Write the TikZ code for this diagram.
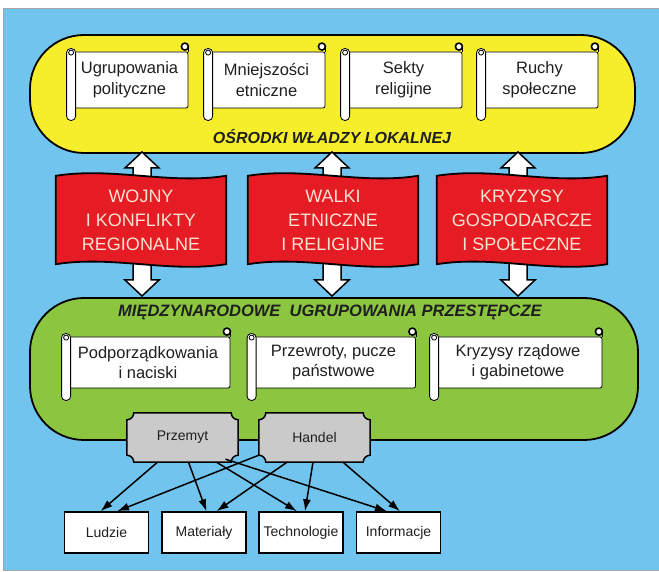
\documentclass[tikz,border=0pt]{standalone}
\usepackage{fontspec}
\setmainfont{Liberation Sans}
\usetikzlibrary{positioning}
\usetikzlibrary{arrows.meta}
\definecolor{skyblue}{RGB}{112,196,238}
\definecolor{lemon}{RGB}{246,238,42}
\definecolor{flagred}{RGB}{230,28,36}
\definecolor{leaf}{RGB}{140,198,64}
\definecolor{gatefill}{RGB}{202,202,202}
\definecolor{paleink}{RGB}{250,226,210}
\pgfdeclarelayer{front}
\pgfsetlayers{main,front}
\newcommand{\sheetrolls}[1]{%
  \draw[roll] ([xshift=-4pt,yshift=3pt]#1.north west) rectangle ([xshift=5pt,yshift=-12pt]#1.south west);
  \draw[roll] ([xshift=0.5pt,yshift=-1pt]#1.north west) circle (2.5pt);
  \draw[thick] (#1.north east) -- ++(0,5pt);
  \draw[roll, line width=1.6pt] ([xshift=-3.5pt,yshift=5pt]#1.north east) circle (3.5pt);
}
\newcommand{\flagoutline}[1]{%
  \draw[flagline] (#1.north west) .. controls +(57,9) and +(-57,-9) .. (#1.north east)
    -- (#1.south east) .. controls +(-57,-9) and +(57,9) .. (#1.south west) -- cycle;
}
\newcommand{\bothways}[1]{%
  \draw[twoway] (#1) -- ++(17,-16) -- ++(-8,0) -- ++(0,-112) -- ++(8,0) -- ++(-17,-16)
    -- ++(-17,16) -- ++(8,0) -- ++(0,112) -- ++(-8,0) -- cycle;
}
\newcommand{\gateoutline}[1]{%
  \draw[gateline] ([xshift=7pt]#1.north west) -- ([xshift=-7pt]#1.north east)
    arc[start angle=180,end angle=270,radius=7pt] -- ([yshift=7pt]#1.south east)
    arc[start angle=90,end angle=180,radius=7pt] -- ([xshift=7pt]#1.south west)
    arc[start angle=0,end angle=90,radius=7pt] -- ([yshift=-7pt]#1.north west)
    arc[start angle=270,end angle=360,radius=7pt] -- cycle;
}
\tikzset{
  every node/.style={align=center, text=black!88},
  region/.style={draw, line width=1.8pt, rounded corners=54pt},
  title/.style={font=\fontsize{16}{18}\selectfont\bfseries\itshape},
  sheet/.style={draw, thick, fill=white, rounded corners=2pt, inner sep=0pt,
    font=\fontsize{16.5}{21}\selectfont},
  roll/.style={thick, fill=white, rounded corners=4pt},
  flagtext/.style={minimum width=170pt, minimum height=88pt, inner sep=0pt,
    text=paleink, font=\fontsize{18}{24}\selectfont},
  flagline/.style={line width=1.8pt, fill=flagred},
  twoway/.style={line width=1.5pt, fill=white, line join=miter},
  gatetext/.style={minimum width=111pt, minimum height=49pt, inner sep=0pt,
    font=\fontsize{14}{16}\selectfont},
  gateline/.style={line width=1.5pt, fill=gatefill},
  item/.style={draw, line width=1.5pt, fill=white, minimum width=84pt,
    minimum height=41pt, font=\fontsize{14}{16}\selectfont},
  flow/.style={line width=1.5pt, -{Latex[length=12pt,width=8pt]}}
}
\begin{document}
\begin{tikzpicture}[x=1pt,y=1pt]
  \useasboundingbox (0,0) rectangle (659,571);
  \draw[gray!70, fill=skyblue] (3,1) rectangle (662,563);
  % local power centres
  \node[region, fill=lemon, minimum width=605pt, minimum height=118pt] (local) at (332.5,477) {};
  \node[title] (localtitle) at (332,434) {OŚRODKI WŁADZY LOKALNEJ};
  \node[sheet, minimum width=117pt, minimum height=56pt] (grupy) at (129.5,491) {Ugrupowania\\polityczne};
  \node[sheet, minimum width=117pt, minimum height=56pt, on grid, right=137pt of grupy] (mniejszosci) {Mniejszości\\etniczne};
  \node[sheet, minimum width=117pt, minimum height=56pt, on grid, right=137pt of mniejszosci] (sekty) {Sekty\\religijne};
  \node[sheet, minimum width=117pt, minimum height=56pt, on grid, right=136pt of sekty] (ruchy) {Ruchy\\społeczne};
  \foreach \s in {grupy,mniejszosci,sekty,ruchy} {\sheetrolls{\s}}
  % conflicts
  \coordinate (tipA) at (142,419);
  \coordinate (tipB) at (332,419);
  \coordinate (tipC) at (518,419);
  \foreach \t in {tipA,tipB,tipC} {\bothways{\t}}
  \begin{pgfonlayer}{front}
    \node[flagtext] (wojny) at (141,351) {WOJNY\\I KONFLIKTY\\REGIONALNE};
    \node[flagtext, on grid, right=192pt of wojny] (walki) {WALKI\\ETNICZNE\\I RELIGIJNE};
    \node[flagtext, on grid, right=189pt of walki] (kryzysy) {KRYZYSY\\GOSPODARCZE\\I SPOŁECZNE};
  \end{pgfonlayer}
  \foreach \f in {wojny,walki,kryzysy} {\flagoutline{\f}}
  % crime groups
  \node[region, fill=leaf, minimum width=608pt, minimum height=142pt] (crime) at (334,202) {};
  \node[title, font=\fontsize{16.5}{18}\selectfont\bfseries\itshape] (crimetitle) at (330,259) {MIĘDZYNARODOWE\ \ UGRUPOWANIA PRZESTĘPCZE};
  \node[sheet, minimum width=164pt, minimum height=51pt, font=\fontsize{16.5}{20}\selectfont] (naciski) at (148,208.5) {Podporządkowania\\i naciski};
  \node[sheet, minimum width=164pt, minimum height=51pt, font=\fontsize{16.5}{20}\selectfont, on grid, right=185.5pt of naciski] (pucze) {Przewroty, pucze\\państwowe};
  \node[sheet, minimum width=168pt, minimum height=51pt, font=\fontsize{16.5}{20}\selectfont, on grid, right=184.5pt of pucze] (rzady) {Kryzysy rządowe\\i gabinetowe};
  \foreach \s in {naciski,pucze,rzady} {\sheetrolls{\s}}
  \begin{pgfonlayer}{front}
    \node[gatetext] (przemyt) at (182.5,133.5) {Przemyt};
    \node[gatetext, on grid, right=132pt of przemyt] (handel) {Handel};
  \end{pgfonlayer}
  \gateoutline{przemyt}
  \gateoutline{handel}
  % goods
  \node[item] (ludzie) at (106.5,38.5) {Ludzie};
  \node[item, on grid, right=97.5pt of ludzie] (materialy) {Materiały};
  \node[item, on grid, right=97pt of materialy] (technologie) {Technologie};
  \node[item, on grid, right=97.5pt of technologie] (informacje) {Informacje};
  \draw[flow] ([xshift=-25pt]przemyt.south) -- ([xshift=-6pt]ludzie.north);
  \draw[flow] ([xshift=6pt]przemyt.south) -- ([xshift=2.5pt]materialy.north);
  \draw[flow] ([xshift=34pt]przemyt.south) -- ([xshift=-4pt]technologie.north);
  \draw[flow] ([xshift=43pt,yshift=3pt]przemyt.south) -- ([xshift=-11.5pt]informacje.north);
  \draw[flow] ([yshift=7pt]handel.south west) -- ([xshift=10.5pt]ludzie.north);
  \draw[flow] ([xshift=-27.5pt]handel.south) -- ([xshift=12.5pt]materialy.north);
  \draw[flow] ([xshift=-1.5pt]handel.south) -- ([xshift=4pt]technologie.north);
  \draw[flow] ([xshift=28.5pt]handel.south) -- ([xshift=1.5pt]informacje.north);
\end{tikzpicture}
\end{document}
